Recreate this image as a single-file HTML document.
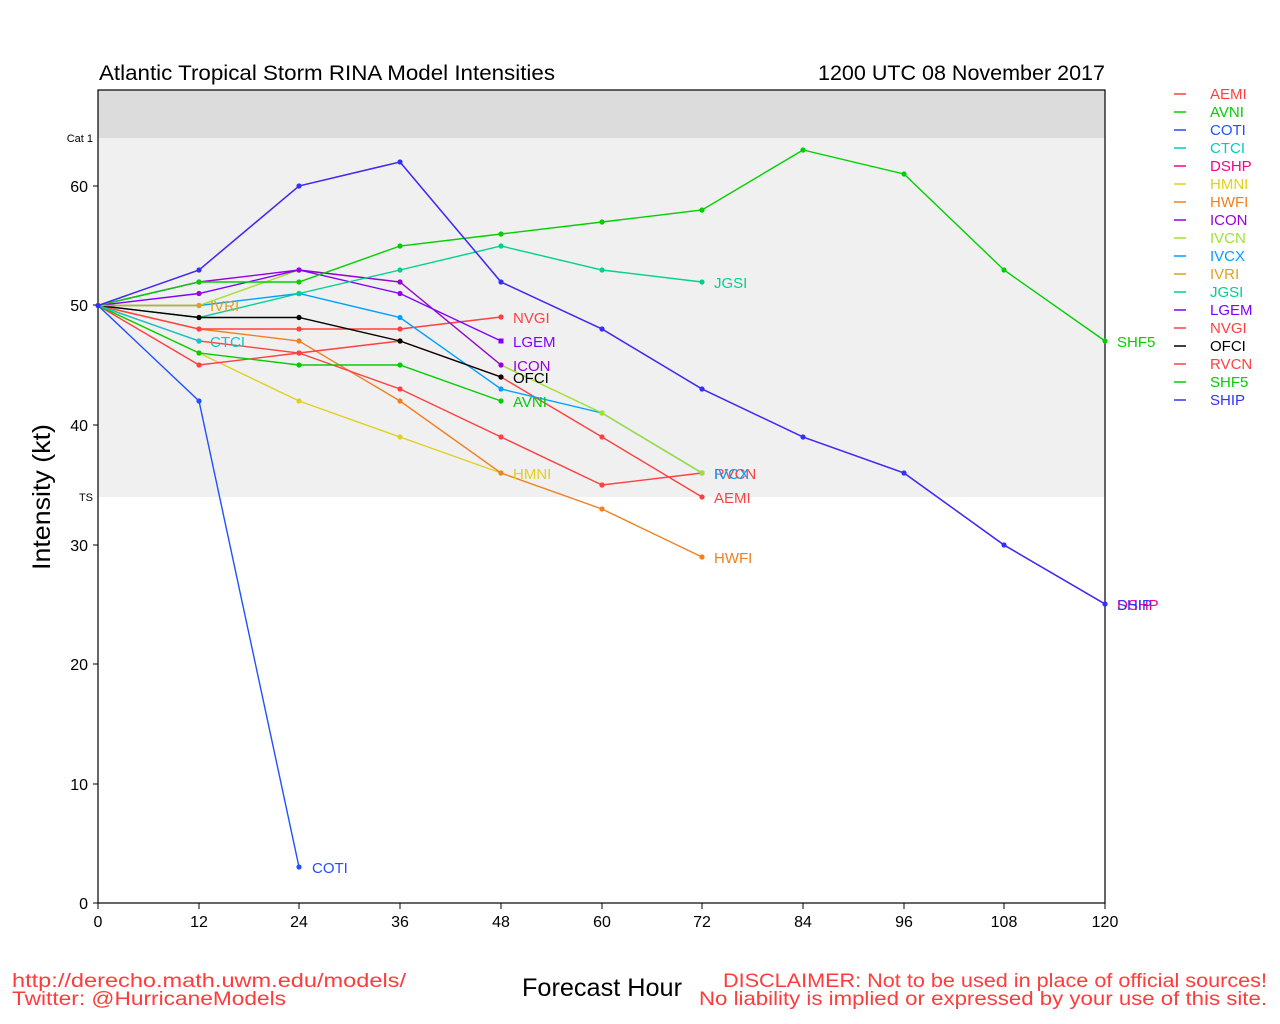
<!DOCTYPE html>
<html><head><meta charset="utf-8"><style>body{margin:0;background:#fff}svg{display:block;font-family:"Liberation Sans",sans-serif}</style></head><body>
<svg width="1280" height="1024" viewBox="0 0 1280 1024">
<defs>
<marker id="m1" markerUnits="userSpaceOnUse" markerWidth="6" markerHeight="6" refX="3" refY="3"><circle cx="3" cy="3" r="2.6" fill="#e0d020"/></marker>
<marker id="m2" markerUnits="userSpaceOnUse" markerWidth="6" markerHeight="6" refX="3" refY="3"><circle cx="3" cy="3" r="2.6" fill="#f08020"/></marker>
<marker id="m3" markerUnits="userSpaceOnUse" markerWidth="6" markerHeight="6" refX="3" refY="3"><circle cx="3" cy="3" r="2.6" fill="#ff4040"/></marker>
<marker id="m4" markerUnits="userSpaceOnUse" markerWidth="6" markerHeight="6" refX="3" refY="3"><circle cx="3" cy="3" r="2.6" fill="#00d000"/></marker>
<marker id="m5" markerUnits="userSpaceOnUse" markerWidth="6" markerHeight="6" refX="3" refY="3"><circle cx="3" cy="3" r="2.6" fill="#00a0ff"/></marker>
<marker id="m6" markerUnits="userSpaceOnUse" markerWidth="6" markerHeight="6" refX="3" refY="3"><circle cx="3" cy="3" r="2.6" fill="#a0e030"/></marker>
<marker id="m7" markerUnits="userSpaceOnUse" markerWidth="6" markerHeight="6" refX="3" refY="3"><circle cx="3" cy="3" r="2.6" fill="#9900dd"/></marker>
<marker id="m8" markerUnits="userSpaceOnUse" markerWidth="6" markerHeight="6" refX="3" refY="3"><rect x="0.5" y="0.5" width="5" height="5" fill="#8000ff"/></marker>
<marker id="m9" markerUnits="userSpaceOnUse" markerWidth="6" markerHeight="6" refX="3" refY="3"><circle cx="3" cy="3" r="2.6" fill="#00d090"/></marker>
<marker id="m10" markerUnits="userSpaceOnUse" markerWidth="6" markerHeight="6" refX="3" refY="3"><circle cx="3" cy="3" r="2.6" fill="#000"/></marker>
<marker id="m11" markerUnits="userSpaceOnUse" markerWidth="6" markerHeight="6" refX="3" refY="3"><circle cx="3" cy="3" r="2.6" fill="#00cccc"/></marker>
<marker id="m12" markerUnits="userSpaceOnUse" markerWidth="6" markerHeight="6" refX="3" refY="3"><circle cx="3" cy="3" r="2.6" fill="#e0a020"/></marker>
<marker id="m13" markerUnits="userSpaceOnUse" markerWidth="6" markerHeight="6" refX="3" refY="3"><circle cx="3" cy="3" r="2.6" fill="#2050ff"/></marker>
<marker id="m14" markerUnits="userSpaceOnUse" markerWidth="6" markerHeight="6" refX="3" refY="3"><circle cx="3" cy="3" r="2.6" fill="#3030ff"/></marker>
</defs>
<rect x="98" y="90" width="1007" height="48" fill="#dcdcdc"/>
<rect x="98" y="138" width="1007" height="359" fill="#f0f0f0"/>
<rect x="98" y="90" width="1007" height="813" fill="none" stroke="#000" stroke-width="1.2"/>
<text x="99" y="80" font-size="21" textLength="456" lengthAdjust="spacingAndGlyphs">Atlantic Tropical Storm RINA Model Intensities</text>
<text x="818" y="80" font-size="21" textLength="287" lengthAdjust="spacingAndGlyphs">1200 UTC 08 November 2017</text>
<text x="93" y="142" font-size="11" text-anchor="end">Cat 1</text>
<text x="93" y="501" font-size="11" text-anchor="end">TS</text>
<g font-size="16" text-anchor="end">
<text x="88" y="909">0</text><text x="88" y="790">10</text><text x="88" y="670">20</text><text x="88" y="551">30</text><text x="88" y="431">40</text><text x="88" y="311">50</text><text x="88" y="192">60</text></g>
<g stroke="#000"><line x1="93" y1="903" x2="98" y2="903"/><line x1="93" y1="784" x2="98" y2="784"/><line x1="93" y1="664" x2="98" y2="664"/><line x1="93" y1="545" x2="98" y2="545"/><line x1="93" y1="425" x2="98" y2="425"/><line x1="93" y1="305" x2="98" y2="305"/><line x1="93" y1="186" x2="98" y2="186"/>
<line x1="98" y1="903" x2="98" y2="909"/><line x1="199" y1="903" x2="199" y2="909"/><line x1="299" y1="903" x2="299" y2="909"/><line x1="400" y1="903" x2="400" y2="909"/><line x1="501" y1="903" x2="501" y2="909"/><line x1="602" y1="903" x2="602" y2="909"/><line x1="702" y1="903" x2="702" y2="909"/><line x1="803" y1="903" x2="803" y2="909"/><line x1="904" y1="903" x2="904" y2="909"/><line x1="1004" y1="903" x2="1004" y2="909"/><line x1="1105" y1="903" x2="1105" y2="909"/></g>
<g font-size="16" text-anchor="middle">
<text x="98" y="927">0</text><text x="199" y="927">12</text><text x="299" y="927">24</text><text x="400" y="927">36</text><text x="501" y="927">48</text><text x="602" y="927">60</text><text x="702" y="927">72</text><text x="803" y="927">84</text><text x="904" y="927">96</text><text x="1004" y="927">108</text><text x="1105" y="927">120</text></g>
<text transform="translate(50,497) rotate(-90)" font-size="25" text-anchor="middle" textLength="146" lengthAdjust="spacingAndGlyphs">Intensity (kt)</text>
<text x="522" y="996" font-size="25" textLength="160" lengthAdjust="spacingAndGlyphs">Forecast Hour</text>
<g font-size="19" fill="#ff3b3b"><text x="12" y="987" textLength="394" lengthAdjust="spacingAndGlyphs">http://derecho.math.uwm.edu/models/</text><text x="12" y="1005" textLength="274" lengthAdjust="spacingAndGlyphs">Twitter: @HurricaneModels</text>
<text x="723" y="987" textLength="544" lengthAdjust="spacingAndGlyphs">DISCLAIMER: Not to be used in place of official sources!</text><text x="699" y="1005" textLength="568" lengthAdjust="spacingAndGlyphs">No liability is implied or expressed by your use of this site.</text></g>
<g fill="none" stroke-width="1.4">
<polyline stroke="#e0d020" marker-start="url(#m1)" marker-mid="url(#m1)" marker-end="url(#m1)" points="98,305.5 199,353 299,401 400,437 501,473"/>
<polyline stroke="#f08020" marker-mid="url(#m2)" marker-end="url(#m2)" points="98,305.5 199,329 299,341 400,401 501,473 602,509 702,557"/>
<polyline stroke="#ff4040" marker-mid="url(#m3)" marker-end="url(#m3)" points="98,305.5 199,341 299,353 400,389 501,437 602,485 702,473"/>
<polyline stroke="#ff4040" marker-mid="url(#m3)" marker-end="url(#m3)" points="98,305.5 199,365 299,353 400,341 501,377 602,437 702,497"/>
<polyline stroke="#ff4040" marker-mid="url(#m3)" marker-end="url(#m3)" points="98,305.5 199,329 299,329 400,329 501,317"/>
<polyline stroke="#00d000" marker-mid="url(#m4)" marker-end="url(#m4)" points="98,305.5 199,353 299,365 400,365 501,401"/>
<polyline stroke="#00a0ff" marker-mid="url(#m5)" marker-end="url(#m5)" points="98,305.5 199,305.5 299,293.5 400,317.5 501,389 602,413 702,473"/>
<polyline stroke="#a0e030" marker-mid="url(#m6)" marker-end="url(#m6)" points="98,305.5 199,305.5 299,270 400,282 501,365 602,413 702,473"/>
<polyline stroke="#9900dd" marker-mid="url(#m7)" marker-end="url(#m7)" points="98,305.5 199,282 299,270 400,282 501,365"/>
<polyline stroke="#8000ff" marker-mid="url(#m7)" marker-end="url(#m8)" points="98,305.5 199,293.5 299,270 400,293.5 501,341"/>
<polyline stroke="#00d090" marker-mid="url(#m9)" marker-end="url(#m9)" points="98,305.5 199,317.5 299,293.5 400,270 501,246 602,270 702,282"/>
<polyline stroke="#000" marker-mid="url(#m10)" marker-end="url(#m10)" points="98,305.5 199,317.5 299,317.5 400,341 501,377"/>
<polyline stroke="#00cccc" marker-end="url(#m11)" points="98,305.5 199,341"/>
<polyline stroke="#e0a020" marker-end="url(#m12)" points="98,305.5 199,305.5"/>
<polyline stroke="#2050ff" marker-mid="url(#m13)" marker-end="url(#m13)" points="98,305.5 199,401 299,867"/>
<polyline stroke="#00d000" marker-mid="url(#m4)" marker-end="url(#m4)" points="98,305.5 199,282 299,282 400,246 501,234 602,222 702,210 803,150 904,174 1004,270 1105,341"/>
<polyline stroke="#ff0088" points="98,305.5 199,270 299,186 400,162 501,282 602,329 702,389 803,437 904,473 1004,545 1105,604"/>
<polyline stroke="#3030ff" marker-start="url(#m14)" marker-mid="url(#m14)" marker-end="url(#m14)" points="98,305.5 199,270 299,186 400,162 501,282 602,329 702,389 803,437 904,473 1004,545 1105,604"/>
</g>
<g font-size="15">
<text x="513" y="323" fill="#ff4040">NVGI</text><text x="513" y="347" fill="#8000ff">LGEM</text><text x="513" y="371" fill="#9900dd">ICON</text><text x="513" y="383" fill="#000">OFCI</text><text x="513" y="407" fill="#00d000">AVNI</text><text x="513" y="479" fill="#e0d020">HMNI</text>
<text x="714" y="288" fill="#00d090">JGSI</text><text x="714" y="479" fill="#ff4040">RVCN</text><text x="714" y="479" fill="#00a0ff">IVCX</text><text x="714" y="503" fill="#ff4040">AEMI</text><text x="714" y="563" fill="#f08020">HWFI</text>
<text x="210" y="311" fill="#e0a020">IVRI</text><text x="210" y="347" fill="#00cccc">CTCI</text><text x="312" y="873" fill="#2050ff">COTI</text>
<text x="1117" y="347" fill="#00d000">SHF5</text><text x="1117" y="610" fill="#ff0088">DSHP</text><text x="1117" y="610" fill="#3030ff">SHIP</text></g>
<g font-size="15" stroke-width="1.5">
<line x1="1174" y1="94" x2="1186" y2="94" stroke="#ff4040"/><text x="1210" y="99" fill="#ff4040">AEMI</text>
<line x1="1174" y1="112" x2="1186" y2="112" stroke="#00d000"/><text x="1210" y="117" fill="#00d000">AVNI</text>
<line x1="1174" y1="130" x2="1186" y2="130" stroke="#2050ff"/><text x="1210" y="135" fill="#2050ff">COTI</text>
<line x1="1174" y1="148" x2="1186" y2="148" stroke="#00cccc"/><text x="1210" y="153" fill="#00cccc">CTCI</text>
<line x1="1174" y1="166" x2="1186" y2="166" stroke="#ff0088"/><text x="1210" y="171" fill="#ff0088">DSHP</text>
<line x1="1174" y1="184" x2="1186" y2="184" stroke="#e0d020"/><text x="1210" y="189" fill="#e0d020">HMNI</text>
<line x1="1174" y1="202" x2="1186" y2="202" stroke="#f08020"/><text x="1210" y="207" fill="#f08020">HWFI</text>
<line x1="1174" y1="220" x2="1186" y2="220" stroke="#9900dd"/><text x="1210" y="225" fill="#9900dd">ICON</text>
<line x1="1174" y1="238" x2="1186" y2="238" stroke="#a0e030"/><text x="1210" y="243" fill="#a0e030">IVCN</text>
<line x1="1174" y1="256" x2="1186" y2="256" stroke="#00a0ff"/><text x="1210" y="261" fill="#00a0ff">IVCX</text>
<line x1="1174" y1="274" x2="1186" y2="274" stroke="#e0a020"/><text x="1210" y="279" fill="#e0a020">IVRI</text>
<line x1="1174" y1="292" x2="1186" y2="292" stroke="#00d090"/><text x="1210" y="297" fill="#00d090">JGSI</text>
<line x1="1174" y1="310" x2="1186" y2="310" stroke="#8000ff"/><text x="1210" y="315" fill="#8000ff">LGEM</text>
<line x1="1174" y1="328" x2="1186" y2="328" stroke="#ff4040"/><text x="1210" y="333" fill="#ff4040">NVGI</text>
<line x1="1174" y1="346" x2="1186" y2="346" stroke="#000"/><text x="1210" y="351" fill="#000">OFCI</text>
<line x1="1174" y1="364" x2="1186" y2="364" stroke="#ff4040"/><text x="1210" y="369" fill="#ff4040">RVCN</text>
<line x1="1174" y1="382" x2="1186" y2="382" stroke="#00d000"/><text x="1210" y="387" fill="#00d000">SHF5</text>
<line x1="1174" y1="400" x2="1186" y2="400" stroke="#3030ff"/><text x="1210" y="405" fill="#3030ff">SHIP</text>
</g>
</svg>
</body></html>
